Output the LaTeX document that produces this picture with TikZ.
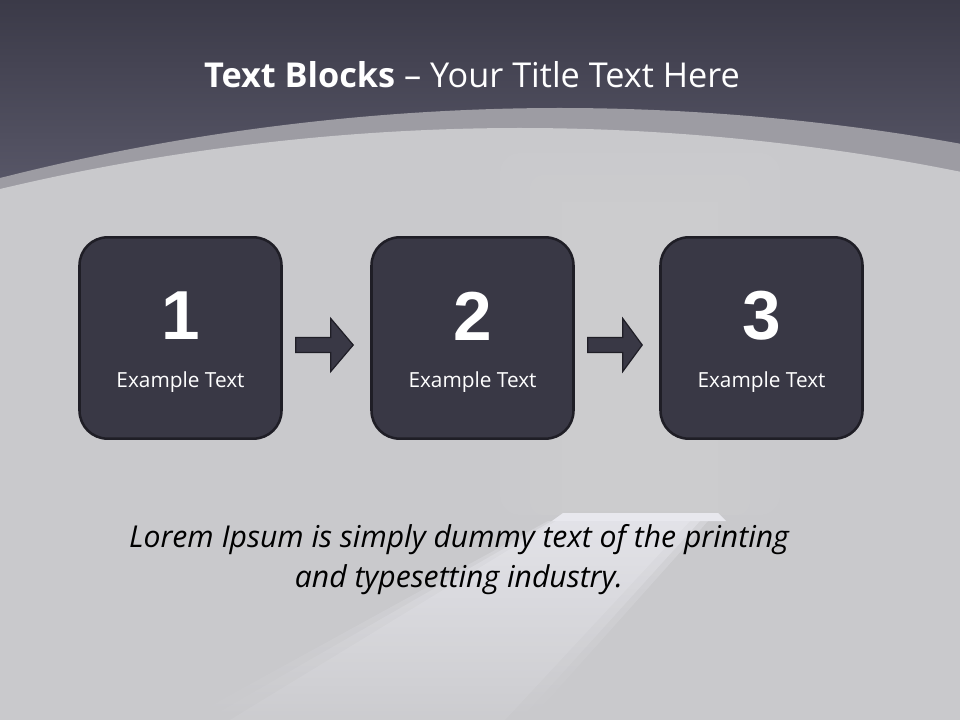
\documentclass[tikz,border=0pt]{standalone}
\usepackage{fontspec}
\setmainfont{Open Sans}
\newfontfamily\numfont{Liberation Sans}
\usetikzlibrary{calc}
\definecolor{topdark}{HTML}{3B3A48}
\definecolor{topmid}{HTML}{5A596A}
\definecolor{band}{HTML}{9D9CA3}
\definecolor{lightbg}{HTML}{C9C9CC}
\definecolor{boxfill}{HTML}{393845}
\definecolor{boxline}{HTML}{1F1E26}
\definecolor{beam}{HTML}{E8E8EE}
\tikzset{
  blockbox/.style={draw=boxline, line width=1.9pt, fill=boxfill, rounded corners=21pt,
    minimum width=151.5pt, minimum height=151pt, inner sep=0pt},
  numtext/.style={text=white, font=\numfont\bfseries\fontsize{52}{60}\selectfont, inner sep=0pt},
  extext/.style={text=white, font=\fontsize{15.6}{18}\selectfont, inner sep=0pt},
  blockarrow/.style={fill=boxfill, draw=boxline, line width=0.9pt, line join=miter}
}
\begin{document}
\begin{tikzpicture}[x=0.75pt,y=-0.75pt]
\useasboundingbox (0,0) rectangle (960,720);
% background
\fill[lightbg] (0,0) rectangle (960,720);
\shade[top color=topdark, bottom color=topmid] (0,0) rectangle (960,200);
\fill[band] (0,178) parabola bend (560,108) (960,143.7) -- (960,720) -- (0,720) -- cycle;
\fill[lightbg] (0,189) parabola bend (520,128) (960,171.7) -- (960,720) -- (0,720) -- cycle;
% faint doorway and light beam
\fill[white, opacity=0.02, rounded corners=15pt] (500,153) rectangle (780,515);
\fill[white, opacity=0.02, rounded corners=10pt] (530,175) rectangle (750,515);
\fill[white, opacity=0.035] (562,202) rectangle (718,511);
\shade[top color=beam, bottom color=lightbg, opacity=0.35] (548,521) -- (708,521) -- (530,720) -- (185,720) -- cycle;
\shade[top color=beam, bottom color=lightbg, opacity=0.5] (552,521) -- (700,521) -- (520,720) -- (205,720) -- cycle;
\shade[top color=beam, bottom color=lightbg!80!beam, opacity=0.5] (556,521) -- (690,521) -- (505,720) -- (230,720) -- cycle;
\fill[beam] (563,513) -- (718,513) -- (726,521) -- (552,521) -- cycle;
% title
\node[text=white, font=\fontsize{25.7}{30}\selectfont, inner sep=0pt] (title) at (472,75)
  {\textbf{Text Blocks} – Your Title Text Here};
% boxes
\node[blockbox] (b1) at (180.5,338) {};
\node[blockbox] (b2) at (472.5,338) {};
\node[blockbox] (b3) at (761.5,338) {};
\foreach \b/\n in {b1/1,b2/2,b3/3}{
  \node[numtext] (\b num) at ($(\b.center)+(0,-22)$) {\n};
  \node[extext] (\b txt) at ($(\b.center)+(0,44)$) {Example Text};
}
% block arrows
\foreach \a/\c in {b1/b2,b2/b3}{
  \coordinate (\a s) at ($(\a.east)+(13,7)$);
  \filldraw[blockarrow] (\a s) ++(0,-7.5) -- ++(35,0) -- ++(0,-19) -- ($(\c.west)+(-17,7)$)
     -- ($(\a s)+(35,26.5)$) -- ++(0,-19) -- ++(-35,0) -- cycle;
}
% body text
\node[align=center, font=\itshape\fontsize{22.6}{30}\selectfont, inner sep=0pt] (lorem) at (459,560)
  {Lorem Ipsum is simply dummy text of the printing\\and typesetting industry.};
\end{tikzpicture}
\end{document}
